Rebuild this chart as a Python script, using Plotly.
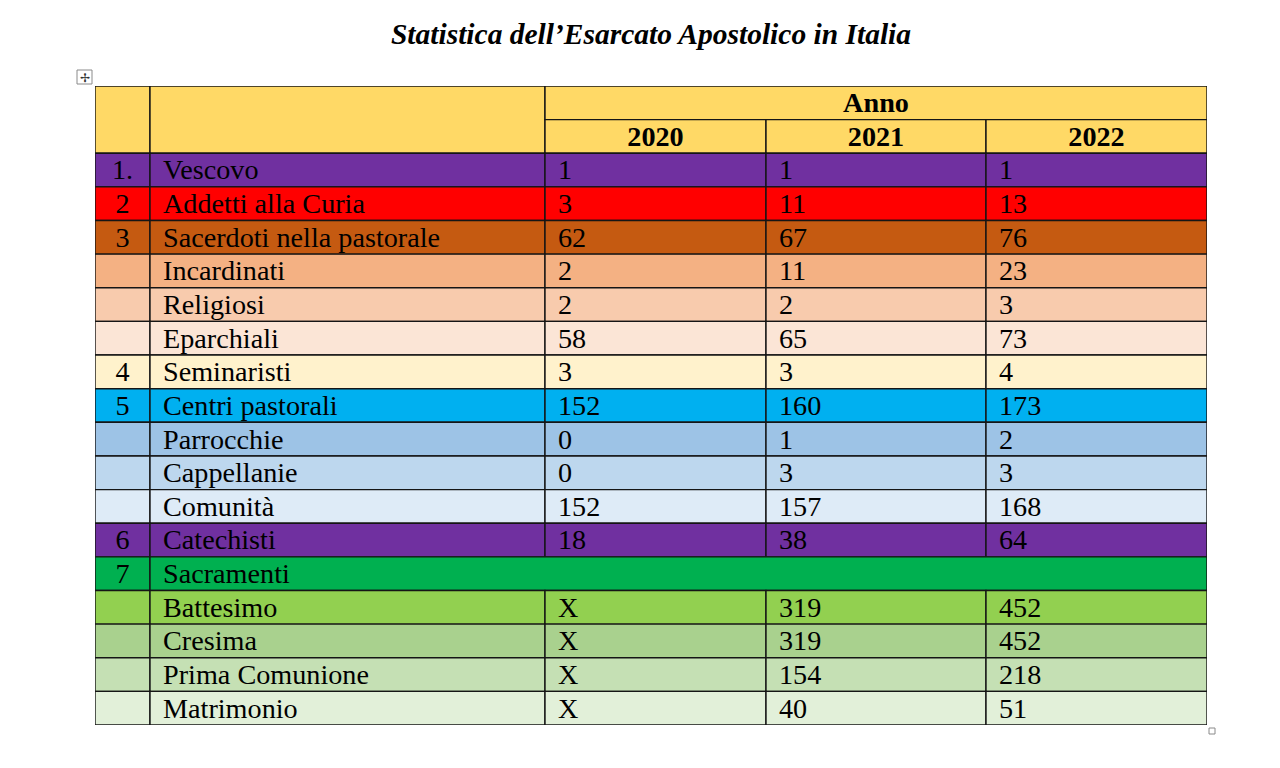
import plotly.graph_objects as go

# ---------------- data ----------------
title = "Statistica dell’Esarcato Apostolico in Italia"
group_header = "Anno"
years = ["2020", "2021", "2022"]
numbers = ["1.", "2", "3", "", "", "", "4", "5", "", "", "", "6", "7", "", "", "", ""]
labels = ["Vescovo", "Addetti alla Curia", "Sacerdoti nella pastorale", "Incardinati",
          "Religiosi", "Eparchiali", "Seminaristi", "Centri pastorali", "Parrocchie",
          "Cappellanie", "Comunità", "Catechisti", "Sacramenti", "Battesimo", "Cresima",
          "Prima Comunione", "Matrimonio"]
v2020 = ["1", "3", "62", "2", "2", "58", "3", "152", "0", "0", "152", "18", "", "X", "X", "X", "X"]
v2021 = ["1", "11", "67", "11", "2", "65", "3", "160", "1", "3", "157", "38", "", "319", "319", "154", "40"]
v2022 = ["1", "13", "76", "23", "3", "73", "4", "173", "2", "3", "168", "64", "", "452", "452", "218", "51"]
merged_rows = ["Sacramenti"]  # label cell spans the value columns

# ---------------- style ----------------
header_color = "#FFD966"
row_colors = ["#7030A0", "#FF0000", "#C55A11", "#F4B183", "#F8CBAD", "#FBE5D6",
              "#FFF2CC", "#00B0F0", "#9DC3E6", "#BDD7EE", "#DEEBF7", "#7030A0",
              "#00B050", "#92D050", "#A9D18E", "#C5E0B4", "#E2F0D9"]
col_edges = [0, 55, 450, 671, 891, 1112]   # table-local column boundaries
pad = 13
FONT = "Liberation Serif, Times New Roman, serif"
FS = 28.2
LINE = dict(color="#151515", width=1.4)

n_head = 2
n_rows = n_head + len(labels)

fig = go.Figure()
shapes = []


def cell(r0, r1, c0, c1, fill):
    shapes.append(dict(type="rect", xref="x", yref="y",
                       x0=col_edges[c0], x1=col_edges[c1], y0=r0, y1=r1,
                       fillcolor=fill, line=LINE, layer="below"))


# header cells
cell(0, 2, 0, 1, header_color)
cell(0, 2, 1, 2, header_color)
cell(0, 1, 2, 5, header_color)
for j in range(3):
    cell(1, 2, 2 + j, 3 + j, header_color)

# body cells
value_cols = [v2020, v2021, v2022]
for i, lab in enumerate(labels):
    r = n_head + i
    col = row_colors[i]
    cell(r, r + 1, 0, 1, col)
    if lab in merged_rows:
        cell(r, r + 1, 1, 5, col)
    else:
        cell(r, r + 1, 1, 2, col)
        for j in range(3):
            cell(r, r + 1, 2 + j, 3 + j, col)

# text traces (text sits slightly below the cell middle, as in Word)
mid = lambda r: r + 0.57
# header text
fig.add_trace(go.Scatter(
    x=[(col_edges[2] + col_edges[5]) / 2] + [(col_edges[2 + j] + col_edges[3 + j]) / 2 for j in range(3)],
    y=[mid(0)] + [mid(1)] * 3,
    text=["<b>%s</b>" % group_header] + ["<b>%s</b>" % y for y in years],
    mode="text", textposition="middle center",
    textfont=dict(family=FONT, size=FS, color="black"),
    hoverinfo="skip", cliponaxis=False, showlegend=False))
# numbers (centered)
fig.add_trace(go.Scatter(
    x=[(col_edges[0] + col_edges[1]) / 2] * len(numbers),
    y=[mid(n_head + i) for i in range(len(numbers))],
    text=numbers, mode="text", textposition="middle center",
    textfont=dict(family=FONT, size=FS, color="black"),
    hoverinfo="skip", cliponaxis=False, showlegend=False))
# labels and values (left aligned)
for c, vals in zip(range(1, 5), [labels] + value_cols):
    fig.add_trace(go.Scatter(
        x=[col_edges[c] + pad] * len(vals),
        y=[mid(n_head + i) for i in range(len(vals))],
        text=vals, mode="text", textposition="middle right",
        textfont=dict(family=FONT, size=FS, color="black"),
        hoverinfo="skip", cliponaxis=False, showlegend=False))

# move handle (decoration) and resize handle
W = col_edges[-1]
H = 639
shapes.append(dict(type="rect", xref="paper", yref="paper",
                   x0=-18 / W, x1=-3 / W, y0=1 + 2 / H, y1=1 + 16 / H,
                   fillcolor="white", line=dict(color="#8a8a8a", width=1)))
shapes.append(dict(type="rect", xref="paper", yref="paper",
                   x0=1 + 2 / W, x1=1 + 8 / W, y0=-9 / H, y1=-3 / H,
                   fillcolor="white", line=dict(color="#8a8a8a", width=1)))

fig.update_layout(
    width=1280, height=768, autosize=False,
    margin=dict(l=87, r=81, t=78, b=51),
    paper_bgcolor="white", plot_bgcolor="white",
    xaxis=dict(range=[0, W], visible=False, fixedrange=True),
    yaxis=dict(range=[n_rows, 0], visible=False, fixedrange=True),
    shapes=shapes,
    annotations=[dict(text="✢", xref="paper", yref="paper",
                      x=-10.5 / W, y=1 + 9 / H, showarrow=False,
                      font=dict(size=12, color="#333"), xanchor="center", yanchor="middle")],
    title=dict(text="<b><i>%s</i></b>" % title, x=643 / 1280, xanchor="center",
               y=1 - 26 / 768, yanchor="middle", yref="container",
               font=dict(family=FONT, size=29.5, color="black")),
)

fig.write_html("out.html")
